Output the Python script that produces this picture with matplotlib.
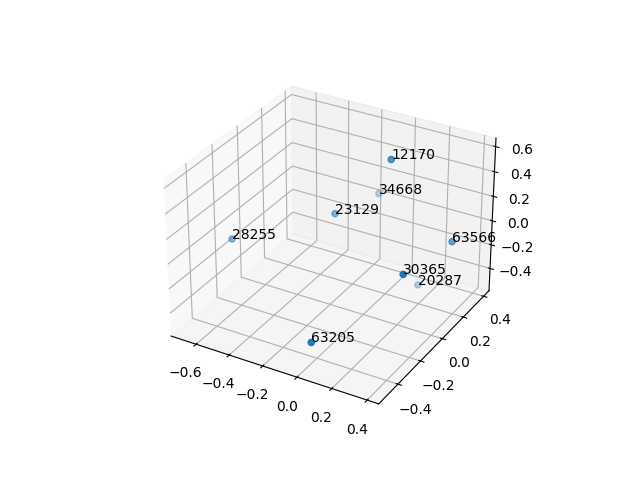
import matplotlib
matplotlib.use("Agg")
import matplotlib.pyplot as plt

labels = ["63205", "30365", "20287", "63566", "12170", "34668", "23129", "28255"]
xs = [0.038, 0.3625, 0.152, 0.387, 0.0615, -0.1695, -0.2325, -0.676]
ys = [-0.50, -0.21, 0.269, 0.196, 0.14, 0.39, 0.09, -0.165]
zs = [-0.35, 0.078, -0.51, 0.009, 0.588, 0.034, 0.081, -0.095]

fig = plt.figure(figsize=(6.4, 4.8), dpi=100)
ax = fig.add_subplot(projection="3d")
ax.scatter(xs, ys, zs)
for x, y, z, s in zip(xs, ys, zs, labels):
    ax.text(x, y, z, s)
fig.savefig("out.png", dpi=100)
